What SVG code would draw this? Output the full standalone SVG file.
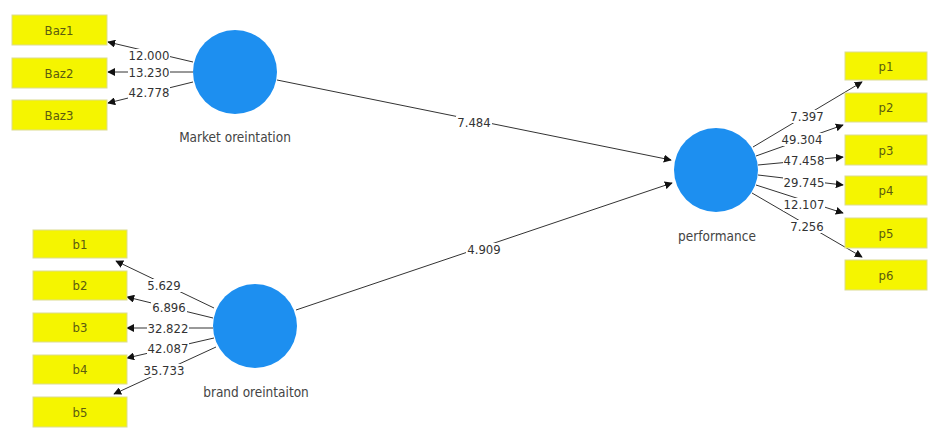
<svg xmlns="http://www.w3.org/2000/svg" width="928" height="429" viewBox="0 0 928 429">
<defs>
<marker id="ah" viewBox="0 0 10 10" refX="9" refY="5" markerWidth="8" markerHeight="8" markerUnits="userSpaceOnUse" orient="auto">
<path d="M0,0 L10,5 L0,10 z" fill="#111"/>
</marker>
</defs>
<style>
.box{fill:#f5f500;stroke:#dcdc90;stroke-width:1}
.btxt{font-family:"DejaVu Sans Condensed","DejaVu Sans",sans-serif;font-size:13px;fill:#5b5b10;text-anchor:middle}
.circ{fill:#1d8ff0}
.ctxt{font-family:"DejaVu Sans Condensed","DejaVu Sans",sans-serif;font-size:13.5px;fill:#444;text-anchor:middle}
.ln{stroke:#333;stroke-width:1;fill:none;marker-end:url(#ah)}
.bg{fill:#fff}
.lbl{font-family:"DejaVu Sans Condensed","DejaVu Sans",sans-serif;font-size:13px;fill:#333;text-anchor:middle}
</style>
<rect width="928" height="429" fill="#fff"/>
<g id="connectors">
<line class="ln" x1="193" y1="62" x2="108" y2="42"/>
<line class="ln" x1="193" y1="72" x2="108" y2="72"/>
<line class="ln" x1="193" y1="82" x2="108" y2="103"/>
<line class="ln" x1="214" y1="308" x2="116" y2="261"/>
<line class="ln" x1="213" y1="318" x2="127" y2="297"/>
<line class="ln" x1="213" y1="328" x2="127" y2="328"/>
<line class="ln" x1="214" y1="338" x2="127" y2="358"/>
<line class="ln" x1="216" y1="347" x2="114" y2="394"/>
<line class="ln" x1="753" y1="147" x2="862" y2="82"/>
<line class="ln" x1="756" y1="156" x2="843" y2="125"/>
<line class="ln" x1="758" y1="165" x2="843" y2="157"/>
<line class="ln" x1="758" y1="175" x2="843" y2="185"/>
<line class="ln" x1="756" y1="185" x2="843" y2="213"/>
<line class="ln" x1="752" y1="193" x2="862" y2="257"/>
<line class="ln" x1="277" y1="80" x2="671" y2="160"/>
<line class="ln" x1="296" y1="310" x2="672" y2="183"/>
<rect class="bg" x="128" y="49" width="42" height="13"/><text class="lbl" x="149" y="60">12.000</text>
<rect class="bg" x="128" y="66" width="42" height="13"/><text class="lbl" x="149" y="77">13.230</text>
<rect class="bg" x="128" y="86" width="42" height="13"/><text class="lbl" x="149" y="97">42.778</text>
<rect class="bg" x="146" y="279" width="36" height="13"/><text class="lbl" x="164" y="290">5.629</text>
<rect class="bg" x="151" y="301" width="36" height="13"/><text class="lbl" x="169" y="312">6.896</text>
<rect class="bg" x="147" y="322" width="42" height="13"/><text class="lbl" x="168" y="333">32.822</text>
<rect class="bg" x="147" y="342" width="42" height="13"/><text class="lbl" x="168" y="353">42.087</text>
<rect class="bg" x="143" y="364" width="42" height="13"/><text class="lbl" x="164" y="375">35.733</text>
<rect class="bg" x="789" y="110" width="36" height="13"/><text class="lbl" x="807" y="121">7.397</text>
<rect class="bg" x="781" y="133" width="42" height="13"/><text class="lbl" x="802" y="144">49.304</text>
<rect class="bg" x="783" y="154" width="42" height="13"/><text class="lbl" x="804" y="165">47.458</text>
<rect class="bg" x="783" y="176" width="42" height="13"/><text class="lbl" x="804" y="187">29.745</text>
<rect class="bg" x="783" y="198" width="42" height="13"/><text class="lbl" x="804" y="209">12.107</text>
<rect class="bg" x="789" y="220" width="36" height="13"/><text class="lbl" x="807" y="231">7.256</text>
<rect class="bg" x="456" y="116" width="36" height="13"/><text class="lbl" x="474" y="127">7.484</text>
<rect class="bg" x="466" y="243" width="36" height="13"/><text class="lbl" x="484" y="254">4.909</text>
</g>
<g id="Baz1"><rect class="box" x="12" y="15" width="95" height="30"/><text class="btxt" x="59" y="35">Baz1</text></g>
<g id="Baz2"><rect class="box" x="12" y="58" width="95" height="30"/><text class="btxt" x="59" y="78">Baz2</text></g>
<g id="Baz3"><rect class="box" x="12" y="100" width="95" height="30"/><text class="btxt" x="59" y="120">Baz3</text></g>
<g id="b1"><rect class="box" x="33" y="230" width="94" height="28"/><text class="btxt" x="80" y="249">b1</text></g>
<g id="b2"><rect class="box" x="33" y="271" width="94" height="29"/><text class="btxt" x="80" y="290">b2</text></g>
<g id="b3"><rect class="box" x="33" y="313" width="94" height="29"/><text class="btxt" x="80" y="332">b3</text></g>
<g id="b4"><rect class="box" x="33" y="355" width="94" height="29"/><text class="btxt" x="80" y="374">b4</text></g>
<g id="b5"><rect class="box" x="33" y="397" width="94" height="30"/><text class="btxt" x="80" y="417">b5</text></g>
<g id="p1"><rect class="box" x="845" y="52" width="82" height="28"/><text class="btxt" x="886" y="71">p1</text></g>
<g id="p2"><rect class="box" x="845" y="93" width="82" height="29"/><text class="btxt" x="886" y="112">p2</text></g>
<g id="p3"><rect class="box" x="845" y="135" width="82" height="30"/><text class="btxt" x="886" y="155">p3</text></g>
<g id="p4"><rect class="box" x="845" y="176" width="82" height="29"/><text class="btxt" x="886" y="195">p4</text></g>
<g id="p5"><rect class="box" x="845" y="218" width="82" height="30"/><text class="btxt" x="886" y="238">p5</text></g>
<g id="p6"><rect class="box" x="845" y="260" width="82" height="30"/><text class="btxt" x="886" y="280">p6</text></g>
<g id="market"><circle class="circ" cx="235" cy="72" r="42"/><text class="ctxt" x="235" y="142">Market oreintation</text></g>
<g id="brand"><circle class="circ" cx="255" cy="326" r="42"/><text class="ctxt" x="256" y="397">brand oreintaiton</text></g>
<g id="performance"><circle class="circ" cx="716" cy="170" r="42"/><text class="ctxt" x="717" y="241">performance</text></g>
</svg>
